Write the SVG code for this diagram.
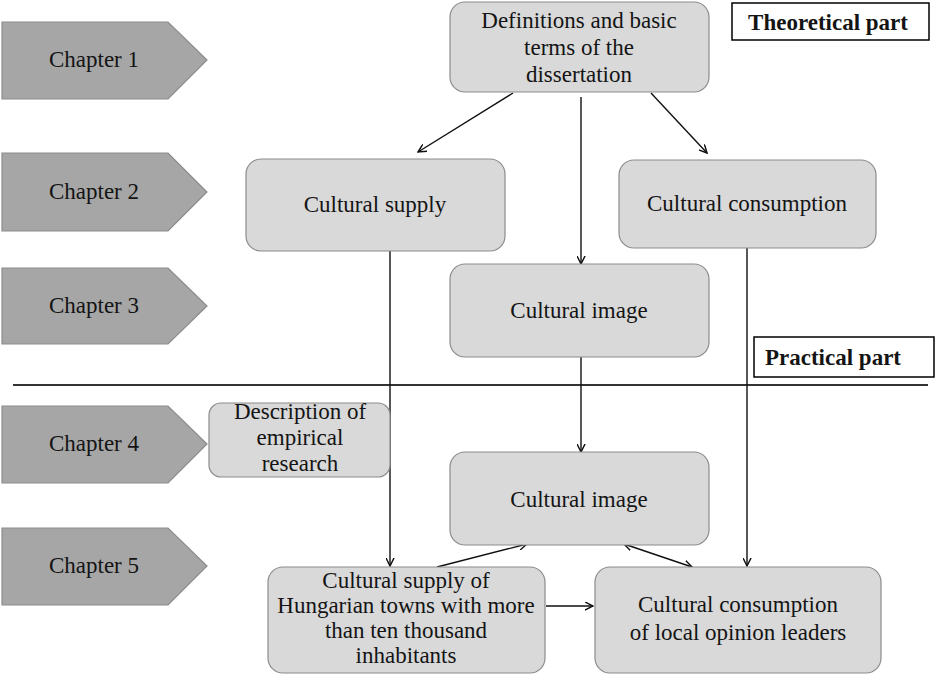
<svg xmlns="http://www.w3.org/2000/svg" width="937" height="675" viewBox="0 0 937 675">
<defs>
<style>
.chap{fill:#a6a6a6;stroke:#8c8c8c;stroke-width:1.2}
.node{fill:#d9d9d9;stroke:#8c8c8c;stroke-width:1.2}
.lbl{fill:#fff;stroke:#000;stroke-width:1.5}
text{font-family:"Liberation Serif","Times New Roman",serif;font-size:23px;fill:#141414;text-anchor:middle}
.b{font-weight:bold}
.c{fill:none;stroke:#111;stroke-width:1.4}
</style>
<marker id="ah" viewBox="0 0 10 10" refX="9" refY="5" markerWidth="9" markerHeight="9" markerUnits="userSpaceOnUse" orient="auto-start-reverse">
<path d="M0,0.5 L9,5 L0,9.5" fill="none" stroke="#111" stroke-width="1.6"/>
</marker>
</defs>
<rect width="937" height="675" fill="#fff"/>
<g id="chapter1"><polygon class="chap" points="2,22 168,22 207,60 168,99 2,99"/><text x="94" y="67">Chapter 1</text></g>
<g id="chapter2"><polygon class="chap" points="2,153 168,153 207,192 168,231 2,231"/><text x="94" y="199">Chapter 2</text></g>
<g id="chapter3"><polygon class="chap" points="2,268 168,268 207,306 168,344 2,344"/><text x="94" y="313">Chapter 3</text></g>
<g id="chapter4"><polygon class="chap" points="2,406 168,406 207,444 168,483 2,483"/><text x="94" y="451">Chapter 4</text></g>
<g id="chapter5"><polygon class="chap" points="2,528 168,528 207,566 168,605 2,605"/><text x="94" y="573">Chapter 5</text></g>
<line x1="13" y1="385" x2="928" y2="385" stroke="#333" stroke-width="2"/>
<g id="theoretical"><rect class="lbl" x="732" y="3" width="197" height="37"/><text class="b" x="828" y="30">Theoretical part</text></g>
<g id="practical"><rect class="lbl" x="754" y="337" width="180" height="40"/><text class="b" x="833" y="365">Practical part</text></g>
<g id="connectors">
<line class="c" x1="513" y1="93" x2="418" y2="152" marker-end="url(#ah)"/>
<line class="c" x1="651" y1="93" x2="707" y2="153" marker-end="url(#ah)"/>
<line class="c" x1="581" y1="97" x2="581" y2="264" marker-end="url(#ah)"/>
<line class="c" x1="390" y1="251" x2="390" y2="566" marker-end="url(#ah)"/>
<line class="c" x1="747" y1="248" x2="747" y2="566" marker-end="url(#ah)"/>
<line class="c" x1="581" y1="357" x2="581" y2="452" marker-end="url(#ah)"/>
<line class="c" x1="437" y1="567" x2="527" y2="544" marker-end="url(#ah)"/>
<line class="c" x1="624" y1="544" x2="692" y2="567" marker-start="url(#ah)" marker-end="url(#ah)"/>
<line class="c" x1="546" y1="606" x2="593" y2="606" marker-end="url(#ah)"/>
</g>
<g id="definitions"><rect class="node" x="450" y="2" width="259" height="90" rx="15"/><text x="579" y="28">Definitions and basic</text><text x="579" y="55">terms of the</text><text x="579" y="82">dissertation</text></g>
<g id="supply"><rect class="node" x="246" y="159" width="259" height="92" rx="15"/><text x="375" y="212">Cultural supply</text></g>
<g id="consumption"><rect class="node" x="619" y="160" width="257" height="88" rx="15"/><text x="747" y="211">Cultural consumption</text></g>
<g id="image1"><rect class="node" x="450" y="264" width="259" height="93" rx="15"/><text x="579" y="318">Cultural image</text></g>
<g id="description"><rect class="node" x="209" y="403" width="181" height="74" rx="12"/><text x="300" y="419">Description of</text><text x="300" y="445">empirical</text><text x="300" y="471">research</text></g>
<g id="image2"><rect class="node" x="450" y="452" width="259" height="93" rx="15"/><text x="579" y="507">Cultural image</text></g>
<g id="hungarian"><rect class="node" x="268" y="567" width="277" height="106" rx="15"/><text x="406" y="588">Cultural supply of</text><text x="406" y="613">Hungarian towns with more</text><text x="406" y="638">than ten thousand</text><text x="406" y="663">inhabitants</text></g>
<g id="leaders"><rect class="node" x="595" y="567" width="286" height="106" rx="15"/><text x="738" y="612">Cultural consumption</text><text x="738" y="640">of local  opinion leaders</text></g>
</svg>
